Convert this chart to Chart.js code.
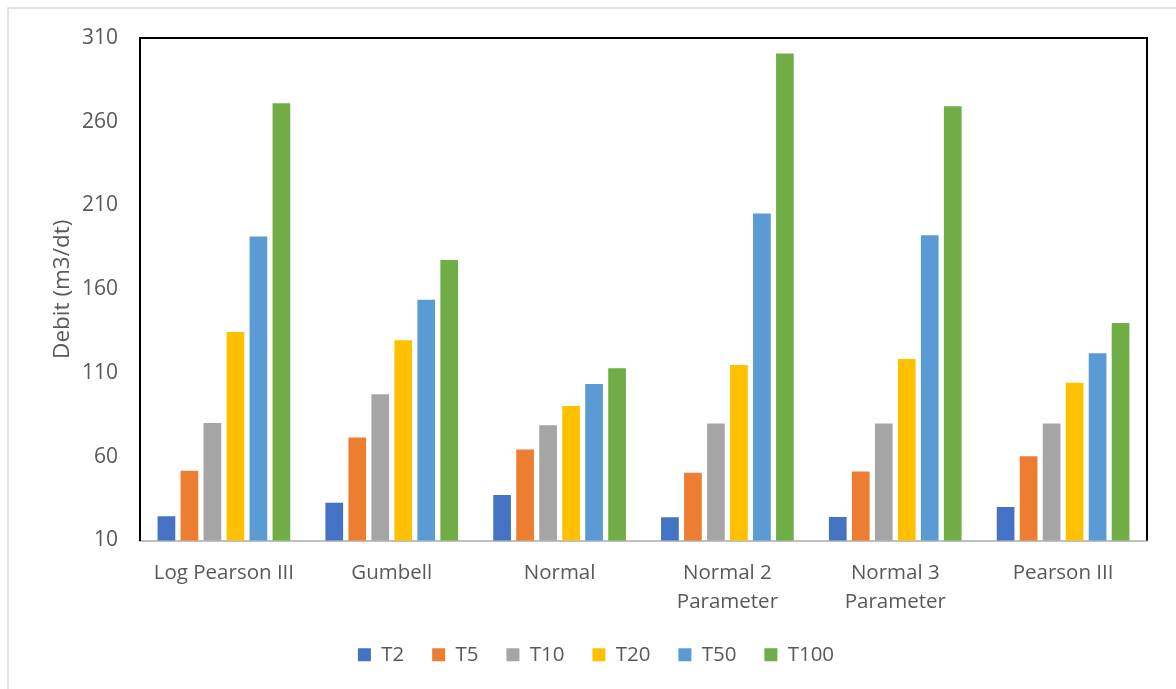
<!DOCTYPE html>
<html>
<head>
<meta charset="utf-8">
<title>Debit</title>
<script src="https://cdn.jsdelivr.net/npm/chart.js@4.4.1/dist/chart.umd.min.js"></script>
<style>
  html,body{margin:0;padding:0;background:#fff;}
  #wrap{width:1176px;height:689px;position:relative;}
</style>
</head>
<body>
<div id="wrap"><canvas id="chart" width="1176" height="689"></canvas></div>
<script>
// data
const categories = ['Log Pearson III', 'Gumbell', 'Normal', ['Normal 2', 'Parameter'], ['Normal 3', 'Parameter'], 'Pearson III'];
const seriesNames = ['T2', 'T5', 'T10', 'T20', 'T50', 'T100'];
const t2   = [24.5, 32.6, 37.2, 23.9, 24.1, 30.0];
const t5   = [51.7, 71.5, 64.3, 50.5, 51.2, 60.3];
const t10  = [80.2, 97.3, 78.8, 79.8, 79.8, 79.9];
const t20  = [134.5, 129.5, 90.3, 114.8, 118.3, 104.2];
const t50  = [191.5, 153.8, 103.5, 205.2, 192.3, 121.8];
const t100 = [271.0, 177.5, 112.8, 300.8, 269.3, 139.8];
const yTicks = [10, 60, 110, 160, 210, 260, 310];

const colors = ['#4472C4', '#ED7D31', '#A5A5A5', '#FFC000', '#5B9BD5', '#70AD47'];
const allSeries = [t2, t5, t10, t20, t50, t100];
const FONT = "'Open Sans', 'Noto Sans', sans-serif";
const GREY = '#595959';

// frame of the chart + black box round the plot area
const framePlugin = {
  id: 'frame',
  beforeDraw(chart){
    const c = chart.ctx;
    c.save();
    c.strokeStyle = '#d9d9d9';
    c.lineWidth = 1.5;
    c.beginPath();
    c.moveTo(8, 1200); c.lineTo(8, 8); c.lineTo(1200, 8);
    c.stroke();
    c.restore();
  },
  afterDraw(chart){
    const a = chart.chartArea, c = chart.ctx;
    c.save();
    c.strokeStyle = '#000';
    c.lineWidth = 2;
    c.beginPath();
    c.moveTo(a.left, a.bottom); c.lineTo(a.left, a.top); c.lineTo(a.right, a.top); c.lineTo(a.right, a.bottom);
    c.stroke();
    c.restore();
  }
};

new Chart(document.getElementById('chart'), {
  type: 'bar',
  data: {
    labels: categories,
    datasets: seriesNames.map((n, i) => ({
      label: n,
      data: allSeries[i],
      backgroundColor: colors[i],
      borderWidth: 0,
      categoryPercentage: 0.822,
      barPercentage: 0.77
    }))
  },
  options: {
    responsive: false,
    animation: false,
    layout: { padding: { left: 45, top: 38, right: 29, bottom: 14 } },
    plugins: {
      legend: {
        position: 'bottom',
        labels: {
          boxWidth: 13, boxHeight: 13, padding: 28,
          color: GREY, font: { family: FONT, size: 20.5 }
        }
      },
      tooltip: { enabled: false }
    },
    scales: {
      x: {
        grid: { display: false, drawTicks: false },
        border: { display: true, color: '#bfbfbf', width: 2 },
        ticks: {
          color: GREY, padding: 18, maxRotation: 0, autoSkip: false,
          font: { family: FONT, size: 20.5, lineHeight: 1.41 }
        },
        afterFit(s){ s.height = 76; }
      },
      y: {
        min: 10, max: 310,
        afterBuildTicks(s){ s.ticks = yTicks.map(v => ({ value: v })); },
        grid: { display: false, drawTicks: false },
        border: { display: true, color: '#000', width: 2 },
        ticks: { color: GREY, padding: 22, font: { family: FONT, size: 21 } },
        title: { display: true, text: 'Debit (m3/dt)', color: GREY, font: { family: FONT, size: 22.5 } },
        afterFit(s){ s.width = 95; }
      }
    }
  },
  plugins: [framePlugin]
});
</script>
</body>
</html>
